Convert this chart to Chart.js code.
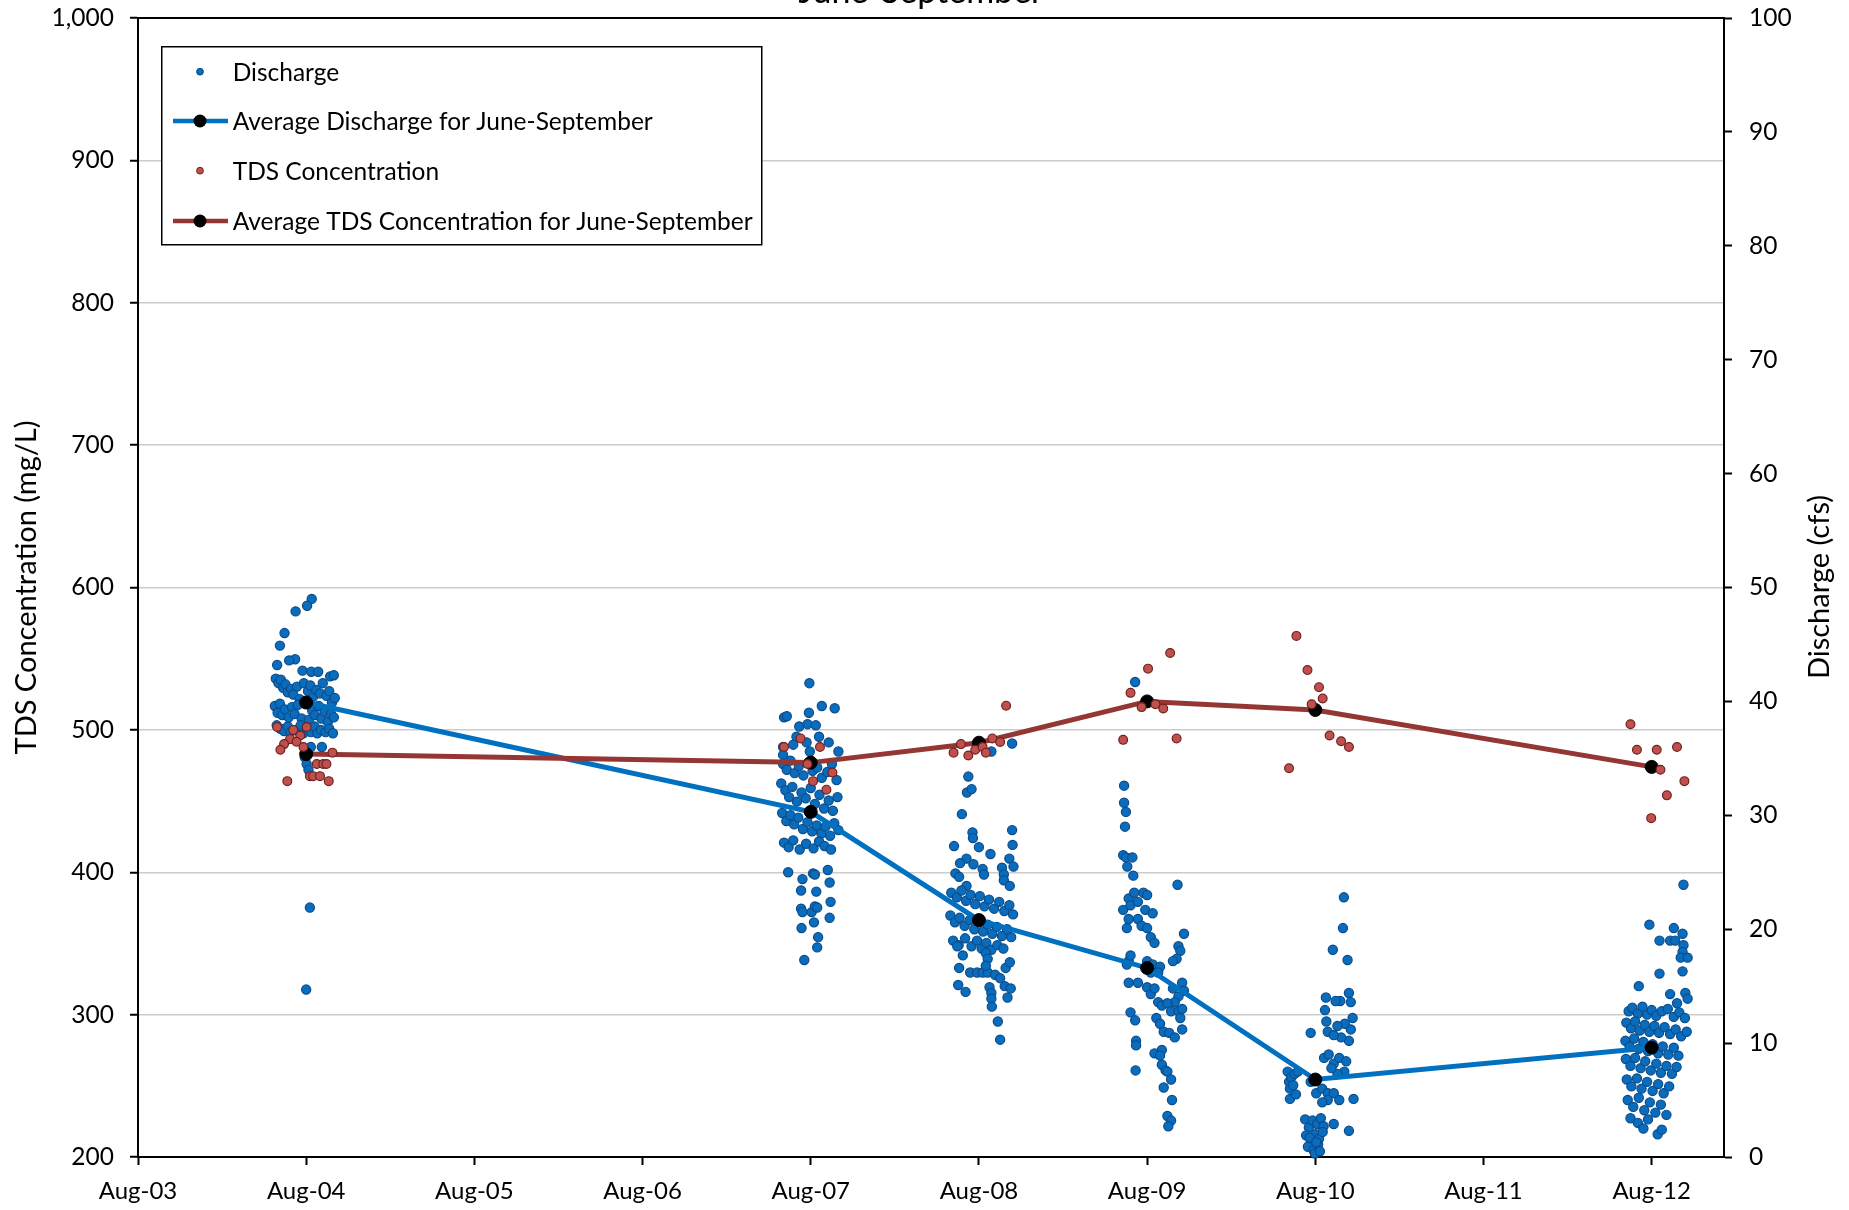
<!DOCTYPE html>
<html>
<head>
<meta charset="utf-8">
<script src="https://cdn.jsdelivr.net/npm/chart.js@4.4.1/dist/chart.umd.min.js"></script>
<style>
html, body { margin: 0; padding: 0; background: #fff; overflow: hidden; }
#wrap { width: 1849px; height: 1210px; }
</style>
</head>
<body>
<div id="wrap"><canvas id="tdsChart" width="1849" height="1210"></canvas></div>
<script>
// x ticks: years after Aug 2003
const xTickValues = [0, 1, 2, 3, 4, 5, 6, 7, 8, 9];
const xTickLabels = ['Aug-03', 'Aug-04', 'Aug-05', 'Aug-06', 'Aug-07', 'Aug-08', 'Aug-09', 'Aug-10', 'Aug-11', 'Aug-12'];

// seasonal averages (plotted at Aug 1 of each year)
const avgYears = [2004, 2007, 2008, 2009, 2010, 2012];
const avgDischarge = [39.9, 30.3, 20.8, 16.6, 6.8, 9.6];
const avgTds = [483, 477, 491, 520, 514, 474];

// daily discharge samples: [days from Aug 1, cfs]
const q2004 = [
    [12, 49.0], [2, 48.4], [-23, 47.9], [-47, 46.0], [-57, 44.9], [-24, 43.7], [-37, 43.6], [-63, 43.2], [-8, 42.7], [11, 42.6], [26, 42.6], [52, 42.2], [60, 42.3],
    [-66, 42.0], [-60, 41.6], [-55, 41.9], [-50, 41.2], [-45, 41.5], [-40, 40.8], [-33, 41.1], [-28, 40.6], [-20, 41.3], [-14, 40.2], [-5, 41.6], [4, 40.9], [9, 41.4], [15, 40.4], [22, 41.0], [30, 40.7], [36, 41.6], [44, 40.5], [50, 40.9], [56, 39.9], [62, 40.3],
    [-68, 39.6], [-62, 39.0], [-57, 39.8], [-52, 38.8], [-46, 39.3], [-38, 38.6], [-31, 39.5], [-25, 38.9], [-18, 39.7], [-10, 38.5], [-3, 39.9], [6, 38.4], [13, 39.2], [19, 38.8], [27, 39.6], [33, 38.5], [40, 39.1], [47, 38.2], [54, 38.9], [60, 38.6],
    [-64, 37.9], [-56, 37.6], [-48, 37.4], [-40, 37.8], [-34, 37.3], [-22, 37.5], [-12, 37.9], [-6, 37.2], [2, 37.6], [10, 37.3], [18, 37.8], [24, 37.2], [32, 37.5], [42, 37.3], [50, 37.6], [58, 37.2],
    [10, 36.0], [34, 36.0], [-3, 35.1], [1, 34.5], [5, 34.0], [8, 21.9], [0, 14.7]
];
const q2007 = [
    [-3, 41.6], [24, 39.6], [52, 39.4], [-58, 38.6], [-52, 38.7], [-4, 39.0], [-25, 37.8], [-7, 38.0], [11, 37.9], [-31, 36.9], [-9, 36.4], [18, 36.9], [39, 36.4], [-60, 36.0], [-38, 36.2], [-2, 35.6], [60, 35.6], [-60, 35.3],
    [-60, 34.5], [-52, 34.0], [-44, 34.8], [-35, 33.7], [-26, 34.3], [-16, 33.5], [-6, 34.6], [4, 33.9], [14, 34.2], [24, 33.3], [36, 33.8], [46, 34.5], [56, 33.1],
    [-64, 32.8], [-55, 32.2], [-47, 31.6], [-40, 32.5], [-30, 31.2], [-20, 32.0], [-11, 31.5], [0, 32.4], [9, 31.0], [19, 31.8], [29, 30.6], [39, 31.3], [48, 30.4], [58, 31.6],
    [-62, 30.2], [-53, 29.5], [-44, 30.0], [-36, 29.2], [-27, 29.8], [-17, 28.8], [-7, 29.4], [3, 28.6], [13, 29.1], [23, 28.4], [32, 29.0], [42, 28.2], [51, 29.3], [60, 28.7],
    [-58, 27.6], [-48, 27.2], [-38, 27.8], [-24, 27.0], [-10, 27.5], [6, 27.1], [18, 27.7], [30, 27.3], [44, 27.0],
    [-49, 25.0], [5, 24.9], [9, 24.8], [37, 25.2], [-18, 24.4], [41, 24.1], [-21, 23.4], [12, 23.3], [43, 22.4], [-21, 21.8], [-18, 21.5], [2, 21.5], [9, 22.0], [14, 21.9], [7, 20.6], [41, 21.0], [-20, 20.1], [16, 19.3], [14, 18.4], [-14, 17.3]
];
const q2008 = [
    [72, 36.3], [27, 35.6], [-23, 33.4], [-26, 32.0], [-16, 32.3], [-37, 30.1], [-14, 28.5], [-13, 28.0], [72, 28.7], [-54, 27.3], [0, 27.2], [25, 26.6], [73, 27.4],
    [-27, 26.2], [-41, 25.8], [-12, 25.7], [8, 25.3], [11, 24.8], [50, 25.4], [54, 24.8], [66, 26.2], [75, 25.5], [-51, 24.9], [-43, 24.6], [-27, 23.8], [54, 24.3], [67, 23.8],
    [-60, 23.2], [-48, 22.8], [-38, 23.4], [-28, 22.5], [-18, 23.0], [-8, 22.2], [2, 22.9], [12, 22.0], [22, 22.6], [33, 21.8], [44, 22.4], [55, 21.6], [66, 22.1], [74, 21.3],
    [-62, 21.2], [-52, 20.6], [-42, 21.0], [-31, 20.3], [-20, 20.8], [-10, 20.0], [0, 20.6], [9, 19.8], [19, 20.4], [29, 19.6], [39, 20.2], [50, 19.4], [61, 20.0], [70, 19.3],
    [-56, 19.0], [-44, 18.6], [-30, 19.2], [-16, 18.5], [-4, 19.0], [6, 18.3], [16, 18.8], [27, 18.2], [40, 18.6], [53, 18.3],
    [-47, 18.5], [-35, 17.7], [-43, 16.6], [-45, 15.1], [-29, 14.5], [-19, 16.2], [-4, 16.2], [8, 16.2], [19, 16.2], [15, 17.9], [19, 17.4], [15, 16.8],
    [58, 16.6], [67, 17.1], [35, 16.0], [46, 15.7], [56, 15.0], [62, 14.0], [69, 14.8], [23, 14.9], [27, 14.4], [27, 13.9], [28, 13.2], [41, 11.9], [46, 10.3]
];
const q2009 = [
    [-26, 41.7], [-50, 32.6], [-50, 31.1], [-46, 30.3], [-48, 29.0], [-52, 26.5], [-46, 26.3], [-32, 26.3], [-43, 25.5], [-30, 24.7], [66, 23.9],
    [-40, 22.7], [-28, 23.2], [-8, 23.2], [0, 23.0], [-52, 21.7], [-36, 22.1], [-20, 22.4], [-4, 21.7], [12, 21.4], [80, 19.6],
    [-44, 20.1], [-40, 20.9], [-20, 20.9], [-12, 20.3], [0, 20.1], [8, 19.3], [16, 18.8], [68, 18.5], [72, 18.1], [64, 17.4], [56, 17.2],
    [-40, 17.2], [-36, 17.7], [-44, 16.9], [0, 17.2], [12, 16.9], [28, 16.7], [24, 16.2], [8, 16.2],
    [-40, 15.3], [-20, 15.3], [0, 14.9], [8, 14.3], [16, 14.8], [56, 14.8], [76, 15.3], [80, 14.6], [68, 14.1], [60, 13.6],
    [24, 13.6], [32, 13.3], [44, 13.5], [52, 12.8], [68, 12.8], [76, 13.0], [72, 12.2], [76, 11.2],
    [20, 12.2], [28, 11.7], [36, 11.0], [48, 10.9], [60, 10.5], [-36, 12.7], [-26, 12.0], [-24, 10.2], [-24, 9.8], [16, 9.1],
    [32, 9.4], [28, 8.9], [32, 8.1], [40, 7.6], [44, 7.5], [52, 6.8], [-25, 7.6], [36, 6.1], [54, 5.0], [44, 3.6], [52, 3.2], [46, 2.7]
];
const q2010 = [
    [62, 22.8], [60, 20.1], [38, 18.2], [70, 17.3], [73, 14.4], [77, 13.6], [54, 13.7], [44, 13.7], [23, 14.0], [21, 12.9], [81, 12.2], [77, 11.2], [73, 10.2], [64, 11.7],
    [-10, 10.9], [24, 11.9], [48, 11.5], [56, 10.5], [27, 11.0], [40, 10.7],
    [19, 8.7], [29, 9.0], [40, 8.2], [52, 8.7], [67, 8.4], [63, 7.5], [48, 7.3], [35, 7.8], [83, 5.1],
    [-60, 7.5], [-57, 6.6], [-55, 6.0], [-52, 7.0], [-45, 7.3], [-38, 7.5], [-55, 5.1], [-48, 6.3], [-42, 5.5],
    [-10, 6.6], [2, 5.6], [15, 6.0], [27, 5.6], [40, 5.6], [52, 5.0], [27, 5.0], [15, 4.8], [40, 2.9], [73, 2.3],
    [-22, 3.3], [-14, 2.6], [-6, 3.2], [4, 2.9], [12, 3.4], [18, 2.7], [-20, 1.9], [-10, 1.4], [0, 2.0], [8, 1.6], [16, 2.2],
    [-16, 0.9], [-4, 0.6], [6, 1.1], [-1, 0.3], [10, 0.5], [-12, 1.7], [2, 1.3]
];
const q2012 = [
    [69, 23.9], [-5, 20.4], [48, 20.1], [17, 19.0], [40, 19.0], [51, 19.0], [67, 19.6], [69, 18.6], [67, 18.0], [63, 17.5], [78, 17.5], [67, 16.3], [17, 16.1], [-28, 15.0],
    [40, 14.3], [55, 13.5], [73, 14.4], [78, 13.9],
    [-50, 12.8], [-42, 13.1], [-30, 12.6], [-20, 13.2], [-10, 12.5], [0, 12.9], [10, 12.4], [22, 12.8], [35, 13.0], [48, 12.3], [60, 12.7], [72, 12.2],
    [-55, 11.8], [-45, 11.3], [-36, 11.9], [-26, 11.1], [-15, 11.6], [-5, 11.0], [6, 11.5], [16, 10.9], [28, 11.4], [40, 10.8], [52, 11.2], [64, 10.6], [76, 11.0],
    [-57, 10.2], [-48, 9.7], [-38, 10.4], [-28, 9.5], [-18, 10.1], [-8, 9.3], [2, 9.9], [14, 9.1], [24, 9.7], [36, 9.0], [48, 9.6], [58, 8.9],
    [-56, 8.6], [-46, 8.0], [-36, 8.7], [-24, 7.8], [-14, 8.4], [-2, 7.6], [10, 8.2], [20, 7.4], [32, 8.0], [44, 7.3], [54, 7.9],
    [-54, 6.8], [-44, 6.2], [-32, 6.9], [-22, 6.0], [-10, 6.6], [2, 5.8], [14, 6.4], [26, 5.6], [38, 6.2],
    [-52, 5.0], [-40, 4.4], [-28, 5.2], [-16, 4.1], [-4, 4.8], [8, 3.9], [20, 4.6], [32, 3.7],
    [-46, 3.4], [-30, 3.0], [-8, 3.3], [-18, 2.5], [13, 2.0], [22, 2.4]
];

// TDS samples: [days from Aug 1, mg/L]
const tds2004 = [[-63, 502], [1, 502], [-28, 500], [-13, 496], [-35, 493.5], [-21, 491.6], [-48, 490], [-6, 488], [-56, 486], [57, 484], [23, 476], [37, 476], [44, 476], [8, 467.5], [15, 467.5], [30, 467.5], [-41, 464], [49, 464]];
const tds2007 = [[-58, 488], [-22, 494], [20, 488], [-7, 476], [47, 470], [5, 464], [34, 458]];
const tds2008 = [[59, 517], [-39, 490], [29, 494], [46, 491.5], [-55, 484], [-23, 482], [-8, 486], [8, 488], [15, 484]];
const tds2009 = [[50, 554], [2, 543], [-36, 526], [-12, 516], [18, 518], [35, 515], [-52, 493], [64, 494]];
const tds2010 = [[-41, 566], [-17, 542], [8, 530], [16, 522], [-8, 518], [31, 496], [56, 492], [73, 488], [-57, 473]];
const tds2012 = [[-46, 504], [-32, 486], [11, 486], [55, 488], [19, 472], [71, 464], [33, 454], [-1, 438]];

function toPoints(year, pairs) {
    return pairs.map(p => ({ x: year - 2003 + p[0] / 365, y: p[1] }));
}

const dischargePoints = [].concat(
    toPoints(2004, q2004), toPoints(2007, q2007), toPoints(2008, q2008),
    toPoints(2009, q2009), toPoints(2010, q2010), toPoints(2012, q2012)
);
const tdsPoints = [].concat(
    toPoints(2004, tds2004), toPoints(2007, tds2007), toPoints(2008, tds2008),
    toPoints(2009, tds2009), toPoints(2010, tds2010), toPoints(2012, tds2012)
);
const avgDischargePoints = avgYears.map((yr, i) => ({ x: yr - 2003, y: avgDischarge[i] }));
const avgTdsPoints = avgYears.map((yr, i) => ({ x: yr - 2003, y: avgTds[i] }));

const FONT = 'Lato';

// title (cut off at top), top frame line, right axis title and legend box
const chartDecor = {
    id: 'chartDecor',
    afterDatasetsDraw(chart) {
        const ctx = chart.ctx;
        const area = chart.chartArea;
        ctx.save();
        ctx.strokeStyle = '#000';
        ctx.lineWidth = 2;
        ctx.beginPath();
        ctx.moveTo(area.left, area.top);
        ctx.lineTo(area.right, area.top);
        ctx.stroke();
        ctx.restore();
    },
    afterDraw(chart) {
        const ctx = chart.ctx;
        ctx.save();
        ctx.fillStyle = '#000';
        ctx.font = '34px ' + FONT;
        ctx.textAlign = 'center';
        ctx.textBaseline = 'alphabetic';
        ctx.fillText('June-September', 921, 3);

        // right axis title, reads bottom to top
        ctx.translate(1820, 587);
        ctx.rotate(-Math.PI / 2);
        ctx.font = '29px ' + FONT;
        ctx.textBaseline = 'middle';
        ctx.fillText('Discharge (cfs)', 0, 0);
        ctx.restore();

        // legend
        ctx.save();
        ctx.fillStyle = '#fff';
        ctx.fillRect(162, 47, 600, 197);
        ctx.strokeStyle = '#000';
        ctx.lineWidth = 1.5;
        ctx.strokeRect(161.75, 46.75, 600, 198);
        const rows = [71.7, 121, 170.7, 221];
        chart.data.datasets.forEach((ds, i) => {
            const y = rows[i];
            if (ds.showLine) {
                ctx.strokeStyle = ds.borderColor;
                ctx.lineWidth = 4.5;
                ctx.beginPath();
                ctx.moveTo(173, y);
                ctx.lineTo(228, y);
                ctx.stroke();
                ctx.fillStyle = '#000';
                ctx.beginPath();
                ctx.arc(200, y, 6.5, 0, Math.PI * 2);
                ctx.fill();
            } else {
                ctx.fillStyle = ds.backgroundColor;
                ctx.strokeStyle = ds.borderColor;
                ctx.lineWidth = 1;
                ctx.beginPath();
                ctx.arc(200, y, 3.4, 0, Math.PI * 2);
                ctx.fill();
                ctx.stroke();
            }
            ctx.fillStyle = '#000';
            ctx.font = '24.5px ' + FONT;
            ctx.textAlign = 'left';
            ctx.textBaseline = 'middle';
            ctx.fillText(ds.label, 232.7, y + 1);
        });
        ctx.restore();
    }
};

const tickFont = { family: FONT, size: 24.5 };

// fixed axis sizes; drop the label overhang padding so the plot box matches
function fixVertical(width) {
    return s => {
        s.width = width;
        s.paddingTop = 0;
        s.paddingBottom = 0;
    };
}

function drawChart() {
    const ctx = document.getElementById('tdsChart').getContext('2d');
    new Chart(ctx, {
        type: 'scatter',
        data: {
            datasets: [
                {
                    label: 'Discharge',
                    data: dischargePoints,
                    yAxisID: 'y2',
                    backgroundColor: '#0a6cbd',
                    borderColor: '#0a4c8a',
                    borderWidth: 1.2,
                    pointRadius: 4.6,
                    clip: false,
                    order: 4
                },
                {
                    label: 'Average Discharge for June-September',
                    data: avgDischargePoints,
                    yAxisID: 'y2',
                    showLine: true,
                    borderColor: '#0070c0',
                    borderWidth: 5,
                    pointRadius: 6.5,
                    pointBorderWidth: 1,
                    pointBackgroundColor: '#000',
                    pointBorderColor: '#000',
                    order: 3
                },
                {
                    label: 'TDS Concentration',
                    data: tdsPoints,
                    yAxisID: 'y',
                    backgroundColor: '#c0504d',
                    borderColor: '#6e2220',
                    borderWidth: 1.2,
                    pointRadius: 4.4,
                    clip: false,
                    order: 1
                },
                {
                    label: 'Average TDS Concentration for June-September',
                    data: avgTdsPoints,
                    yAxisID: 'y',
                    showLine: true,
                    borderColor: '#943634',
                    borderWidth: 5,
                    pointRadius: 6.5,
                    pointBorderWidth: 1,
                    pointBackgroundColor: '#000',
                    pointBorderColor: '#000',
                    order: 2
                }
            ]
        },
        options: {
            responsive: false,
            animation: false,
            layout: { padding: { top: 18, left: 0, right: 0, bottom: 0 } },
            plugins: {
                legend: { display: false },
                tooltip: { enabled: false },
                title: { display: false }
            },
            scales: {
                x: {
                    type: 'linear',
                    position: 'bottom',
                    min: 0,
                    max: 9.43,
                    afterBuildTicks: s => { s.ticks = xTickValues.map(v => ({ value: v })); },
                    afterFit: s => { s.height = 53; },
                    ticks: {
                        callback: v => xTickLabels[Math.round(v)],
                        color: '#000',
                        font: { family: FONT, size: 24 },
                        padding: 12,
                        maxRotation: 0,
                        autoSkip: false
                    },
                    grid: {
                        drawOnChartArea: false,
                        drawTicks: true,
                        tickLength: 8,
                        tickColor: '#000',
                        tickWidth: 2
                    },
                    border: { color: '#000', width: 2 }
                },
                y: {
                    position: 'left',
                    min: 200,
                    max: 1000,
                    afterFit: fixVertical(138),
                    ticks: {
                        stepSize: 100,
                        callback: v => v.toLocaleString('en-US'),
                        color: '#000',
                        font: tickFont,
                        padding: 16
                    },
                    grid: {
                        color: '#cccccc',
                        lineWidth: 1.5,
                        tickLength: 8,
                        tickColor: '#000',
                        tickWidth: 2
                    },
                    border: { color: '#000', width: 2 },
                    title: {
                        display: true,
                        text: 'TDS Concentration (mg/L)',
                        color: '#000',
                        font: { family: FONT, size: 29 },
                        padding: { top: 9, bottom: 0 }
                    }
                },
                y2: {
                    position: 'right',
                    min: 0,
                    max: 100,
                    afterFit: fixVertical(125),
                    ticks: {
                        stepSize: 10,
                        color: '#000',
                        font: tickFont,
                        padding: 17
                    },
                    grid: {
                        drawOnChartArea: false,
                        tickLength: 8,
                        tickColor: '#000',
                        tickWidth: 2
                    },
                    border: { color: '#000', width: 2 }
                }
            }
        },
        plugins: [chartDecor]
    });
}

if (document.fonts && document.fonts.load) {
    document.fonts.load('24px ' + FONT).then(drawChart, drawChart);
} else {
    drawChart();
}
</script>
</body>
</html>
